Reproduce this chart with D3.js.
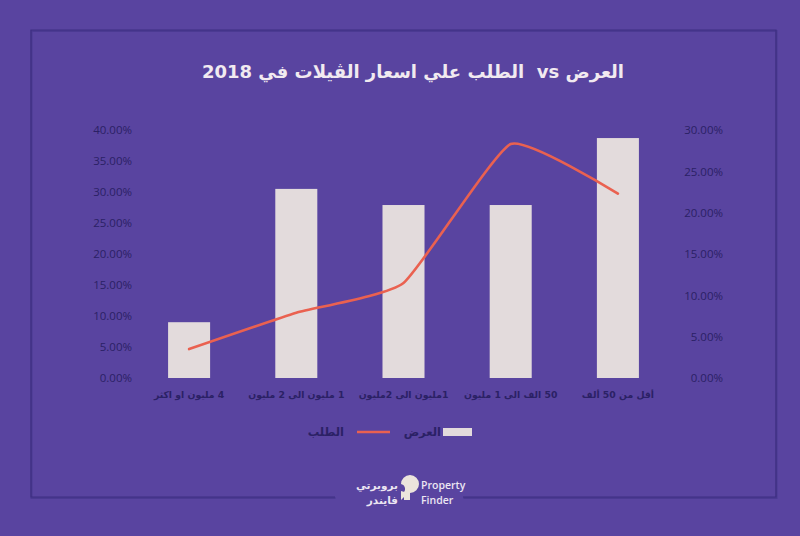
<!DOCTYPE html>
<html><head><meta charset="utf-8">
<script src="https://cdnjs.cloudflare.com/ajax/libs/d3/7.8.5/d3.min.js"></script>
<style>html,body{margin:0;padding:0;background:#5944a0;}svg{display:block;}</style>
</head><body>
<svg id="c" width="800" height="536"></svg>
<script>
const categories = ["4 مليون او اكثر", "1 مليون الى 2 مليون", "1مليون الى 2مليون", "50 الف الى 1 مليون", "أقل من 50 ألف"];
const supplyValues = [9.0, 30.5, 27.9, 27.9, 38.7];   // العرض (left axis, %)
const demandValues = [3.5, 7.9, 11.5, 28.3, 22.3];    // الطلب (right axis, %)
const leftTicks = [0, 5, 10, 15, 20, 25, 30, 35, 40];
const rightTicks = [0, 5, 10, 15, 20, 25, 30];
const titleText = "العرض vs\u00A0 الطلب علي اسعار الڤيلات في 2018";
const legendLabels = ["العرض", "الطلب"];

const svg = d3.select("#c");
const W = 800, H = 536;
svg.append("rect").attr("width", W).attr("height", H).attr("fill", "#5944a0");

// frame with gap for logo
const fx0 = 31, fx1 = 776, fy0 = 30, fy1 = 497;
const framePath = `M335,${fy1} L${fx0},${fy1} L${fx0},${fy0} L${fx1},${fy0} L${fx1},${fy1} L463,${fy1}`;
svg.append("path").attr("d", framePath).attr("fill", "none").attr("stroke", "#4b3a92").attr("stroke-width", 2).attr("transform", "translate(0.5,1)");
svg.append("path").attr("d", framePath).attr("fill", "none").attr("stroke", "#3e2f82").attr("stroke-width", 1.2);

// title
svg.append("text").attr("x", 413).attr("y", 78).attr("text-anchor", "middle").attr("direction", "rtl")
  .attr("font-family", "'DejaVu Sans', sans-serif").attr("font-weight", "bold").attr("font-size", 18)
  .attr("fill", "#f1eaf0").text(titleText);

const x = d3.scaleBand().domain(categories).range([135.5, 671.5]).paddingInner(0.608).paddingOuter(0.304);
const yL = d3.scaleLinear().domain([0, 40]).range([378, 130]);
const yR = d3.scaleLinear().domain([0, 30]).range([378, 130]);

const tickColor = "#2b2165";
const axL = d3.axisLeft(yL).tickValues(leftTicks).tickSize(0).tickPadding(0).tickFormat(d => d3.format(".2f")(d) + "%");
const gL = svg.append("g").attr("transform", "translate(132,0)").call(axL);
gL.select(".domain").remove();
gL.selectAll("text").attr("font-family", "'Open Sans', sans-serif").attr("font-size", 11.5).attr("fill", tickColor);

const axR = d3.axisLeft(yR).tickValues(rightTicks).tickSize(0).tickPadding(0).tickFormat(d => d3.format(".2f")(d) + "%");
const gR = svg.append("g").attr("transform", "translate(723,0)").call(axR);
gR.select(".domain").remove();
gR.selectAll("text").attr("font-family", "'Open Sans', sans-serif").attr("font-size", 11.5).attr("fill", tickColor);

// bars
svg.append("g").selectAll("rect").data(categories).join("rect")
  .attr("x", d => x(d)).attr("width", x.bandwidth())
  .attr("y", (d, i) => yL(supplyValues[i])).attr("height", (d, i) => yL(0) - yL(supplyValues[i]))
  .attr("fill", "#e3dbdc");

// x labels
const axB = d3.axisBottom(x).tickSize(0).tickPadding(0);
const gB = svg.append("g").attr("transform", "translate(0,391)").call(axB);
gB.select(".domain").remove();
gB.selectAll("text").attr("font-family", "'DejaVu Sans', sans-serif").attr("font-size", 9.3).attr("font-weight", "bold")
  .attr("fill", tickColor).attr("direction", "rtl").attr("dy", "0.35em").attr("y", 4);

// line
const line = d3.line().x((d, i) => x(categories[i]) + x.bandwidth() / 2).y(d => yR(d)).curve(d3.curveCardinal.tension(0.55));
svg.append("path").datum(demandValues).attr("d", line).attr("fill", "none")
  .attr("stroke", "#ea6150").attr("stroke-width", 2.6).attr("stroke-linecap", "round");

// legend
const lg = svg.append("g");
lg.append("rect").attr("x", 443).attr("y", 428).attr("width", 29).attr("height", 8).attr("fill", "#e3dbdc");
lg.append("text").attr("x", 441).attr("y", 432).attr("dy", "0.35em").attr("text-anchor", "end").attr("direction", "ltr")
  .attr("font-family", "'DejaVu Sans', sans-serif").attr("font-weight", "bold").attr("font-size", 11.5).attr("fill", tickColor).text(legendLabels[0]);
lg.append("line").attr("x1", 357).attr("x2", 390).attr("y1", 432).attr("y2", 432).attr("stroke", "#ea6150").attr("stroke-width", 2.6);
lg.append("text").attr("x", 344).attr("y", 432).attr("dy", "0.35em").attr("text-anchor", "end").attr("direction", "ltr")
  .attr("font-family", "'DejaVu Sans', sans-serif").attr("font-weight", "bold").attr("font-size", 11.5).attr("fill", tickColor).text(legendLabels[1]);

// logo
const logo = svg.append("g");
logo.append("path").attr("d", "M401,484 A9,9 0 1 1 410,493 L410,500 L404,500 L404,492 A5,5 0 0 0 401,484 Z").attr("fill", "#ece4dc");
logo.append("path").attr("d", "M401,491 L408,493 L401,500 Z").attr("fill", "#ece4dc");
logo.append("text").attr("x", 421).attr("y", 489).attr("font-family", "'Open Sans', sans-serif").attr("font-weight", "600").attr("font-size", 10.5).attr("fill", "#ece6f2").text("Property");
logo.append("text").attr("x", 421).attr("y", 504).attr("font-family", "'Open Sans', sans-serif").attr("font-weight", "600").attr("font-size", 10.5).attr("fill", "#ece6f2").text("Finder");
logo.append("text").attr("x", 398).attr("y", 489).attr("text-anchor", "end").attr("font-family", "'DejaVu Sans', sans-serif").attr("font-weight", "bold").attr("font-size", 10.5).attr("fill", "#ece6f2").text("بروبرتي");
logo.append("text").attr("x", 398).attr("y", 504).attr("text-anchor", "end").attr("font-family", "'DejaVu Sans', sans-serif").attr("font-weight", "bold").attr("font-size", 10.5).attr("fill", "#ece6f2").text("فايندر");
</script>
</body></html>
